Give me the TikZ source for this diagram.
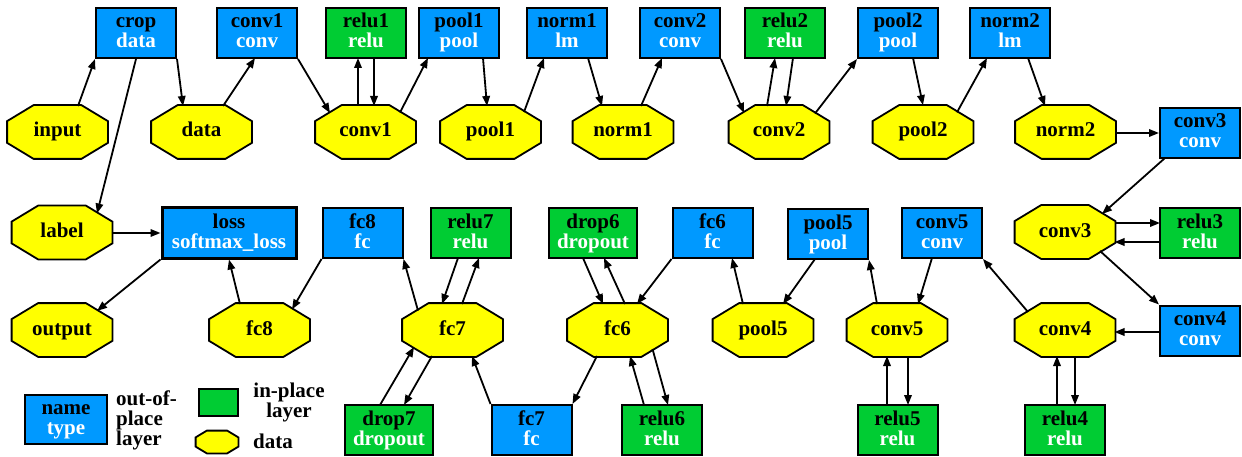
\documentclass[tikz,border=0pt]{standalone}
\usepackage{fontspec}
\setmainfont{Liberation Serif}
\usetikzlibrary{arrows.meta,calc}
\definecolor{oblue}{RGB}{0,153,255}
\definecolor{igreen}{RGB}{0,204,51}
\definecolor{dyellow}{RGB}{255,255,0}
\makeatletter
\pgfdeclareshape{octa}{%
  \inheritsavedanchors[from=rectangle]%
  \inheritanchorborder[from=rectangle]%
  \inheritanchor[from=rectangle]{center}%
  \inheritanchor[from=rectangle]{text}%
  \inheritanchor[from=rectangle]{base}%
  \inheritanchor[from=rectangle]{mid}%
  \inheritanchor[from=rectangle]{north}%
  \inheritanchor[from=rectangle]{south}%
  \inheritanchor[from=rectangle]{east}%
  \inheritanchor[from=rectangle]{west}%
  \backgroundpath{%
    \southwest \pgf@xa=\pgf@x \pgf@ya=\pgf@y
    \northeast \pgf@xb=\pgf@x \pgf@yb=\pgf@y
    \pgf@xc=\pgf@xb \advance\pgf@xc by -\pgf@xa \pgf@xc=0.263\pgf@xc
    \pgf@yc=\pgf@yb \advance\pgf@yc by -\pgf@ya \pgf@yc=0.298\pgf@yc
    \edef\oXa{\the\pgf@xa}\edef\oXb{\the\pgf@xb}%
    \edef\oYa{\the\pgf@ya}\edef\oYb{\the\pgf@yb}%
    \advance\pgf@xa by \pgf@xc \edef\oXc{\the\pgf@xa}%
    \advance\pgf@xb by -\pgf@xc \edef\oXd{\the\pgf@xb}%
    \advance\pgf@ya by \pgf@yc \edef\oYc{\the\pgf@ya}%
    \advance\pgf@yb by -\pgf@yc \edef\oYd{\the\pgf@yb}%
    \pgfpathmoveto{\pgfqpoint{\oXc}{\oYa}}%
    \pgfpathlineto{\pgfqpoint{\oXd}{\oYa}}%
    \pgfpathlineto{\pgfqpoint{\oXb}{\oYc}}%
    \pgfpathlineto{\pgfqpoint{\oXb}{\oYd}}%
    \pgfpathlineto{\pgfqpoint{\oXd}{\oYb}}%
    \pgfpathlineto{\pgfqpoint{\oXc}{\oYb}}%
    \pgfpathlineto{\pgfqpoint{\oXa}{\oYd}}%
    \pgfpathlineto{\pgfqpoint{\oXa}{\oYc}}%
    \pgfpathclose
  }%
}
\makeatother
\newcommand\mystrut{\rule[-5pt]{0pt}{20pt}}
\newcommand\lay[2]{\mystrut #1\\\mystrut\textcolor{white}{#2}}
\tikzset{
  lbl/.style={font=\fontsize{21}{20}\selectfont\bfseries, inner sep=0pt},
  outbox/.style={lbl, draw=black, line width=2pt, fill=oblue, minimum width=80pt, minimum height=50pt, align=center},
  inbox/.style={outbox, fill=igreen},
  dat/.style={lbl, shape=octa, draw=black, line width=1.8pt, fill=dyellow, minimum width=99pt, minimum height=52pt},
  edge/.style={draw=black, line width=1.8pt, -{Triangle[length=10pt,width=7.5pt]}},
}
\begin{document}
\begin{tikzpicture}[x=1pt,y=-1pt]
\useasboundingbox (0,0) rectangle (1242,457);
% row 1
\node[outbox] (crop) at (136,33) {\lay{crop}{data}};
\node[outbox] (conv1b) at (257,33) {\lay{conv1}{conv}};
\node[inbox] (relu1) at (366,33) {\lay{relu1}{relu}};
\node[outbox] (pool1b) at (459,33) {\lay{pool1}{pool}};
\node[outbox] (norm1b) at (567,33) {\lay{norm1}{lm}};
\node[outbox] (conv2b) at (680,33) {\lay{conv2}{conv}};
\node[inbox] (relu2) at (785,33) {\lay{relu2}{relu}};
\node[outbox] (pool2b) at (898,33) {\lay{pool2}{pool}};
\node[outbox] (norm2b) at (1010,33) {\lay{norm2}{lm}};
% row 2
\node[dat] (input) at (57.5,132) {\mystrut input};
\node[dat] (data) at (201.5,132) {\mystrut data};
\node[dat] (conv1) at (365.5,132) {\mystrut conv1};
\node[dat] (pool1) at (490.5,132) {\mystrut pool1};
\node[dat] (norm1) at (623,132) {\mystrut norm1};
\node[dat] (conv2) at (779,132) {\mystrut conv2};
\node[dat] (pool2) at (923,132) {\mystrut pool2};
\node[dat] (norm2) at (1065.5,132) {\mystrut norm2};
\node[outbox] (conv3b) at (1200,133) {\lay{conv3}{conv}};
% row 3
\node[dat] (label) at (62,232.5) {\mystrut label};
\node[outbox, minimum width=134pt, line width=3pt] (loss) at (229,233) {\lay{loss}{softmax\_loss}};
\node[outbox] (fc8b) at (362.5,233) {\lay{fc8}{fc}};
\node[inbox] (relu7) at (470.5,233) {\lay{relu7}{relu}};
\node[inbox, minimum width=88pt] (drop6) at (593,233) {\lay{drop6}{dropout}};
\node[outbox] (fc6b) at (712.5,233) {\lay{fc6}{fc}};
\node[outbox] (pool5b) at (828,234) {\lay{pool5}{pool}};
\node[outbox] (conv5b) at (942,233) {\lay{conv5}{conv}};
\node[dat] (conv3) at (1065,232) {\mystrut conv3};
\node[inbox] (relu3) at (1200,233) {\lay{relu3}{relu}};
% row 4
\node[dat] (output) at (62,330) {\mystrut output};
\node[dat] (fc8) at (259.5,330) {\mystrut fc8};
\node[dat] (fc7) at (452.5,330) {\mystrut fc7};
\node[dat] (fc6) at (617.5,330) {\mystrut fc6};
\node[dat] (pool5) at (763,330) {\mystrut pool5};
\node[dat] (conv5) at (897,330) {\mystrut conv5};
\node[dat] (conv4) at (1065,330) {\mystrut conv4};
\node[outbox] (conv4b) at (1200,330.5) {\lay{conv4}{conv}};
% row 5
\node[inbox, minimum width=88pt] (drop7) at (389,430) {\lay{drop7}{dropout}};
\node[outbox] (fc7b) at (531.5,430) {\lay{fc7}{fc}};
\node[inbox] (relu6) at (662,430) {\lay{relu6}{relu}};
\node[inbox] (relu5) at (897.5,430) {\lay{relu5}{relu}};
\node[inbox] (relu4) at (1065,430) {\lay{relu4}{relu}};
% legend
\node[outbox, minimum width=82pt, minimum height=49pt] (legbox) at (66,419.5) {\lay{name}{type}};
\node[lbl, align=left, anchor=west] (legout) at (116,420) {\mystrut out-of-\\\mystrut place\\\mystrut layer};
\node[inbox, minimum width=39pt, minimum height=27pt] (leggreen) at (218,402) {};
\node[lbl, align=center] (legin) at (289,402.5) {\mystrut in-place\\\mystrut layer};
\node[dat, minimum width=41pt, minimum height=21pt] (legdat) at (217,442) {};
\node[lbl, anchor=west] (legdata) at (253,443) {\mystrut data};
% edges, top part
\draw[edge] ($(input)+(20.5,-26)$) -- (crop.south west);
\draw[edge] (crop.south) -- ($(label)+(35,-19)$);
\draw[edge] (crop.south east) -- ($(data)+(-18.5,-26)$);
\draw[edge] ($(data)+(21.5,-26)$) -- ($(conv1b)+(-2,25)$);
\draw[edge] (conv1b.south east) -- ($(conv1)+(-35.5,-19)$);
\draw[edge] ($(conv1)+(-7.5,-26)$) -- ($(relu1)+(-8,25)$);
\draw[edge] ($(relu1)+(8,25)$) -- ($(conv1)+(8.5,-26)$);
\draw[edge] ($(conv1)+(34.5,-19.5)$) -- ($(pool1b)+(-31,25)$);
\draw[edge] ($(pool1b)+(24,25)$) -- ($(pool1)+(-3.5,-26)$);
\draw[edge] ($(pool1)+(33.5,-20)$) -- ($(norm1b)+(-23,25)$);
\draw[edge] ($(norm1b)+(21,25)$) -- ($(norm1)+(-21,-26)$);
\draw[edge] ($(norm1)+(18,-26)$) -- ($(conv2b)+(-18,25)$);
\draw[edge] (conv2b.south east) -- ($(conv2)+(-35,-19)$);
\draw[edge] ($(conv2)+(-12,-26)$) -- ($(relu2)+(-10,25)$);
\draw[edge] ($(relu2)+(8,25)$) -- ($(conv2)+(7,-26)$);
\draw[edge] ($(conv2)+(36,-18.5)$) -- (pool2b.south west);
\draw[edge] ($(pool2b)+(15,25)$) -- (pool2.north);
\draw[edge] ($(pool2)+(34,-19.7)$) -- ($(norm2b)+(-23,25)$);
\draw[edge] ($(norm2b)+(18,25)$) -- ($(norm2)+(-20.5,-26)$);
\draw[edge] ($(norm2)+(49.5,1)$) -- (conv3b.west);
% right side
\draw[edge] ($(conv3b)+(-35,25)$) -- ($(conv3)+(37,-18)$);
\draw[edge] ($(conv3)+(49.5,-9)$) -- ($(relu3)+(-40,-10)$);
\draw[edge] ($(relu3)+(-40,9)$) -- ($(conv3)+(49.5,10)$);
\draw[edge] ($(conv3)+(35,19)$) -- (conv4b.north west);
\draw[edge] ($(conv4b)+(-40,1.5)$) -- ($(conv4)+(49.5,2)$);
\draw[edge] ($(relu4)+(-8,-25)$) -- ($(conv4)+(-8,26)$);
\draw[edge] ($(conv4)+(10,26)$) -- ($(relu4)+(10,-25)$);
\draw[edge] ($(conv4)+(-37,-18)$) -- (conv5b.south east);
\draw[edge] ($(conv5b)+(-10,25)$) -- ($(conv5)+(21,-26)$);
\draw[edge] ($(relu5)+(-10.5,-25)$) -- ($(conv5)+(-10,26)$);
\draw[edge] ($(conv5)+(11,26)$) -- ($(relu5)+(10.5,-25)$);
\draw[edge] ($(conv5)+(-20,-26)$) -- (pool5b.south east);
\draw[edge] ($(pool5b)+(-13,25)$) -- ($(pool5)+(20,-26)$);
\draw[edge] ($(pool5)+(-20,-26)$) -- ($(fc6b)+(19.5,25)$);
\draw[edge] (fc6b.south west) -- ($(fc6)+(19.5,-26)$);
\draw[edge] ($(drop6)+(-10,25)$) -- ($(fc6)+(-14.5,-26)$);
\draw[edge] ($(fc6)+(7.5,-26)$) -- ($(drop6)+(11,25)$);
\draw[edge] ($(fc6)+(-20.5,26)$) -- (fc7b.north east);
\draw[edge] ($(relu6)+(-18,-25)$) -- ($(fc6)+(12.5,26)$);
\draw[edge] ($(fc6)+(35,19)$) -- ($(relu6)+(6,-25)$);
\draw[edge] (fc7b.north west) -- ($(fc7)+(19.5,26)$);
\draw[edge] ($(relu7)+(-12.5,25)$) -- ($(fc7)+(-10.5,-26)$);
\draw[edge] ($(fc7)+(9.5,-26)$) -- ($(relu7)+(8.5,25)$);
\draw[edge] ($(drop7)+(-9,-25)$) -- ($(fc7)+(-38.5,17)$);
\draw[edge] ($(fc7)+(-20.5,26)$) -- ($(drop7)+(15,-25)$);
\draw[edge] ($(fc7)+(-34.5,-19.4)$) -- (fc8b.south east);
\draw[edge] (fc8b.south west) -- ($(fc8)+(32.5,-20.6)$);
\draw[edge] ($(fc8)+(-19.5,-26)$) -- (loss.south);
\draw[edge] ($(label)+(49.5,0.5)$) -- (loss.west);
\draw[edge] (loss.south west) -- ($(output)+(35,-19.1)$);
\end{tikzpicture}
\end{document}
